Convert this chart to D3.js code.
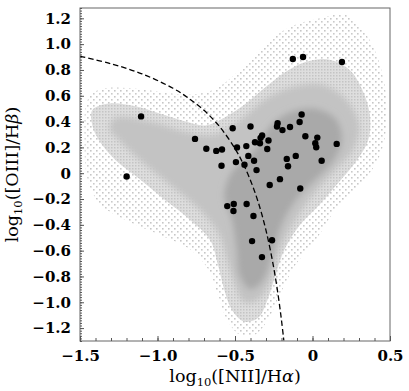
<!DOCTYPE html>
<meta charset="utf-8">
<script src="https://cdn.jsdelivr.net/npm/d3@7"></script>
<body style="margin:0;background:#fff">
<script>

// black points (log NII/Ha, log OIII/Hb)
var ptX = [-1.106,-1.199,-0.758,-0.685,-0.621,-0.584,-0.515,-0.400,-0.325,-0.335,-0.339,-0.371,-0.284,-0.292,-0.487,-0.427,-0.414,-0.377,-0.494,-0.439,-0.361,-0.587,-0.276,-0.550,-0.508,-0.510,-0.425,-0.381,-0.390,-0.261,-0.326,-0.070,-0.083,-0.225,-0.229,-0.194,-0.145,-0.046,0.031,0.018,0.024,0.156,-0.108,-0.166,-0.158,0.059,-0.210,-0.079,-0.127,-0.061,0.190];
var ptY = [0.440,-0.026,0.266,0.190,0.173,0.184,0.348,0.362,0.292,0.274,0.232,0.240,0.254,0.188,0.200,0.210,0.134,0.097,0.086,0.066,0.024,0.058,-0.091,-0.255,-0.239,-0.293,-0.238,-0.332,-0.526,-0.519,-0.650,0.455,0.397,0.387,0.362,0.334,0.358,0.286,0.276,0.232,0.201,0.227,0.134,0.111,0.054,0.097,-0.046,-0.118,0.885,0.900,0.862];

// dashed demarcation curve
var curveX = [-1.5,-1.3,-1.1,-0.9,-0.8,-0.7,-0.6,-0.5,-0.45,-0.4,-0.35,-0.3,-0.25,-0.22,-0.2,-0.185];
var curveY = [0.906,0.848,0.770,0.658,0.582,0.487,0.362,0.191,0.080,-0.056,-0.225,-0.443,-0.733,-0.959,-1.140,-1.296];

// outlines of the grey galaxy cloud (sparse halo -> dense core)
var haloEdge = [[-1.45,0.57],[-1.37,0.65],[-1.18,0.66],[-0.98,0.63],[-0.79,0.61],[-0.63,0.65],[-0.47,0.80],[-0.31,0.99],[-0.15,1.13],[0.05,1.20],[0.21,1.23],[0.37,1.03],[0.47,0.65],[0.47,0.30],[0.42,0.10],[0.31,-0.09],[0.15,-0.28],[0.02,-0.52],[-0.11,-0.71],[-0.21,-0.94],[-0.29,-1.14],[-0.37,-1.25],[-0.47,-1.25],[-0.55,-1.14],[-0.61,-0.94],[-0.67,-0.75],[-0.79,-0.59],[-0.98,-0.48],[-1.21,-0.36],[-1.37,-0.24],[-1.45,-0.05],[-1.47,0.26]];
var bodyEdge = [[-1.42,0.49],[-1.31,0.54],[-1.15,0.52],[-0.98,0.46],[-0.82,0.40],[-0.69,0.37],[-0.57,0.43],[-0.44,0.53],[-0.31,0.66],[-0.18,0.78],[-0.05,0.86],[0.11,0.88],[0.24,0.80],[0.32,0.65],[0.37,0.45],[0.36,0.26],[0.28,0.09],[0.17,-0.07],[0.04,-0.25],[-0.08,-0.40],[-0.18,-0.59],[-0.24,-0.79],[-0.29,-0.98],[-0.35,-1.12],[-0.44,-1.15],[-0.52,-1.06],[-0.57,-0.90],[-0.61,-0.71],[-0.66,-0.52],[-0.79,-0.36],[-0.95,-0.21],[-1.11,-0.05],[-1.27,0.10],[-1.38,0.26],[-1.42,0.37]];
var midEdge = [[-1.27,0.43],[-1.05,0.40],[-0.82,0.32],[-0.63,0.30],[-0.47,0.41],[-0.31,0.57],[-0.15,0.66],[0.05,0.69],[0.21,0.58],[0.30,0.37],[0.26,0.18],[0.15,0.03],[0.00,-0.17],[-0.11,-0.36],[-0.21,-0.59],[-0.27,-0.83],[-0.35,-0.98],[-0.44,-1.00],[-0.50,-0.86],[-0.55,-0.67],[-0.60,-0.48],[-0.73,-0.28],[-0.92,-0.09],[-1.11,0.10],[-1.25,0.26],[-1.31,0.35]];
var coreEdge = [[-0.37,0.18],[-0.27,0.37],[-0.15,0.47],[0.02,0.50],[0.15,0.42],[0.19,0.26],[0.13,0.09],[0.00,-0.07],[-0.11,-0.21],[-0.20,-0.40],[-0.26,-0.63],[-0.32,-0.83],[-0.40,-0.90],[-0.47,-0.79],[-0.49,-0.59],[-0.52,-0.36],[-0.57,-0.17],[-0.52,0.01],[-0.44,0.10]];

var xMajor = [-1.5,-1.0,-0.5,0,0.5];
var yMajor = [-1.2,-1.0,-0.8,-0.6,-0.4,-0.2,0,0.2,0.4,0.6,0.8,1.0,1.2];

var W = 409, H = 391;
var L = 80, R = 390, T = 8, B = 341;

var svg = d3.select("body").append("svg")
    .attr("width", W).attr("height", H)
    .style("display", "block");

var x = d3.scaleLinear().domain([-1.5, 0.5]).range([L, R]);
var y = d3.scaleLinear().domain([-1.3, 1.28]).range([B, T]);

var defs = svg.append("defs");
defs.append("clipPath").attr("id", "plotclip")
  .append("rect").attr("x", L).attr("y", T).attr("width", R - L).attr("height", B - T);

defs.append("filter").attr("id", "soft")
    .attr("x", "-20%").attr("y", "-20%").attr("width", "140%").attr("height", "140%")
  .append("feGaussianBlur").attr("stdDeviation", 3);

// speckle used for the sparse outskirts
var pat = defs.append("pattern").attr("id", "speck")
    .attr("patternUnits", "userSpaceOnUse")
    .attr("width", 6).attr("height", 6);
pat.append("rect").attr("x", 0).attr("y", 0).attr("width", 1.6).attr("height", 1.6).attr("fill", "#c6c6c6");
pat.append("rect").attr("x", 3).attr("y", 3).attr("width", 1.6).attr("height", 1.6).attr("fill", "#cacaca");

var pat2 = defs.append("pattern").attr("id", "speck2")
    .attr("patternUnits", "userSpaceOnUse")
    .attr("width", 3).attr("height", 3);
pat2.append("rect").attr("width", 3).attr("height", 3).attr("fill", "#dedede");
pat2.append("rect").attr("x", 0).attr("y", 0).attr("width", 1.5).attr("height", 1.5).attr("fill", "#c4c4c4");

var plot = svg.append("g").attr("clip-path", "url(#plotclip)");

var blob = d3.line()
    .x(function(d) { return x(d[0]); })
    .y(function(d) { return y(d[1]); })
    .curve(d3.curveCatmullRomClosed.alpha(0.5));

plot.append("path").attr("d", blob(haloEdge)).attr("fill", "url(#speck)");
plot.append("path").attr("d", blob(bodyEdge)).attr("fill", "url(#speck2)");
plot.append("path").attr("d", blob(midEdge)).attr("fill", "#c3c3c3").attr("filter", "url(#soft)");
plot.append("path").attr("d", blob(coreEdge)).attr("fill", "#a9a9a9").attr("filter", "url(#soft)");

var curve = d3.line()
    .x(function(d, i) { return x(curveX[i]); })
    .y(function(d, i) { return y(curveY[i]); })
    .curve(d3.curveCatmullRom);

plot.append("path")
    .attr("d", curve(curveX))
    .attr("fill", "none")
    .attr("stroke", "#000")
    .attr("stroke-width", 1.3)
    .attr("stroke-dasharray", "5.5,3");

plot.selectAll(".pt")
    .data(ptX)
    .enter().append("circle")
    .attr("class", "pt")
    .attr("cx", function(d) { return x(d); })
    .attr("cy", function(d, i) { return y(ptY[i]); })
    .attr("r", 3.2)
    .attr("fill", "#000");

// frame
svg.append("rect")
    .attr("x", L).attr("y", T).attr("width", R - L).attr("height", B - T)
    .attr("fill", "none").attr("stroke", "#666").attr("stroke-width", 1);

var fmt = function(d) { return d === 0 ? "0" : d3.format(".1f")(d); };

svg.append("g").attr("transform", "translate(0," + B + ")")
    .call(d3.axisBottom(x).tickValues(xMajor).tickFormat(fmt).tickSizeInner(-5).tickSizeOuter(0).tickPadding(9));
svg.append("g").attr("transform", "translate(0," + B + ")")
    .call(d3.axisBottom(x).tickValues(d3.range(-15, 6).map(function(v) { return v / 10; })).tickFormat("").tickSizeInner(-3).tickSizeOuter(0));

svg.append("g").attr("transform", "translate(" + L + ",0)")
    .call(d3.axisLeft(y).tickValues(yMajor).tickFormat(fmt).tickSizeInner(-4).tickSizeOuter(0).tickPadding(9));
svg.append("g").attr("transform", "translate(" + L + ",0)")
    .call(d3.axisLeft(y).tickValues(d3.range(-65, 65).map(function(v) { return v / 50; })).tickFormat("").tickSizeInner(-2).tickSizeOuter(0));

svg.selectAll(".domain").remove();
svg.selectAll(".tick line").attr("stroke", "#555");
svg.selectAll(".tick text")
    .style("font-family", "DejaVu Serif")
    .style("font-weight", "bold")
    .style("font-size", "15px")
    .attr("fill", "#000");

// axis titles
var xt = svg.append("text")
    .attr("x", (L + R) / 2).attr("y", 382)
    .attr("text-anchor", "middle")
    .style("font-family", "DejaVu Serif")
    .style("font-size", "17.5px");
xt.append("tspan").text("log");
xt.append("tspan").attr("dy", 3.5).style("font-size", "11.5px").text("10");
xt.append("tspan").attr("dy", -3.5).text("([NII]/H");
xt.append("tspan").style("font-style", "italic").text("α");
xt.append("tspan").text(")");

var yt = svg.append("text")
    .attr("transform", "translate(18," + ((T + B) / 2) + ") rotate(-90)")
    .attr("text-anchor", "middle")
    .style("font-family", "DejaVu Serif")
    .style("font-size", "17.5px");
yt.append("tspan").text("log");
yt.append("tspan").attr("dy", 3.5).style("font-size", "11.5px").text("10");
yt.append("tspan").attr("dy", -3.5).text("([OIII]/H");
yt.append("tspan").style("font-style", "italic").text("β");
yt.append("tspan").text(")");

</script>
</body>
